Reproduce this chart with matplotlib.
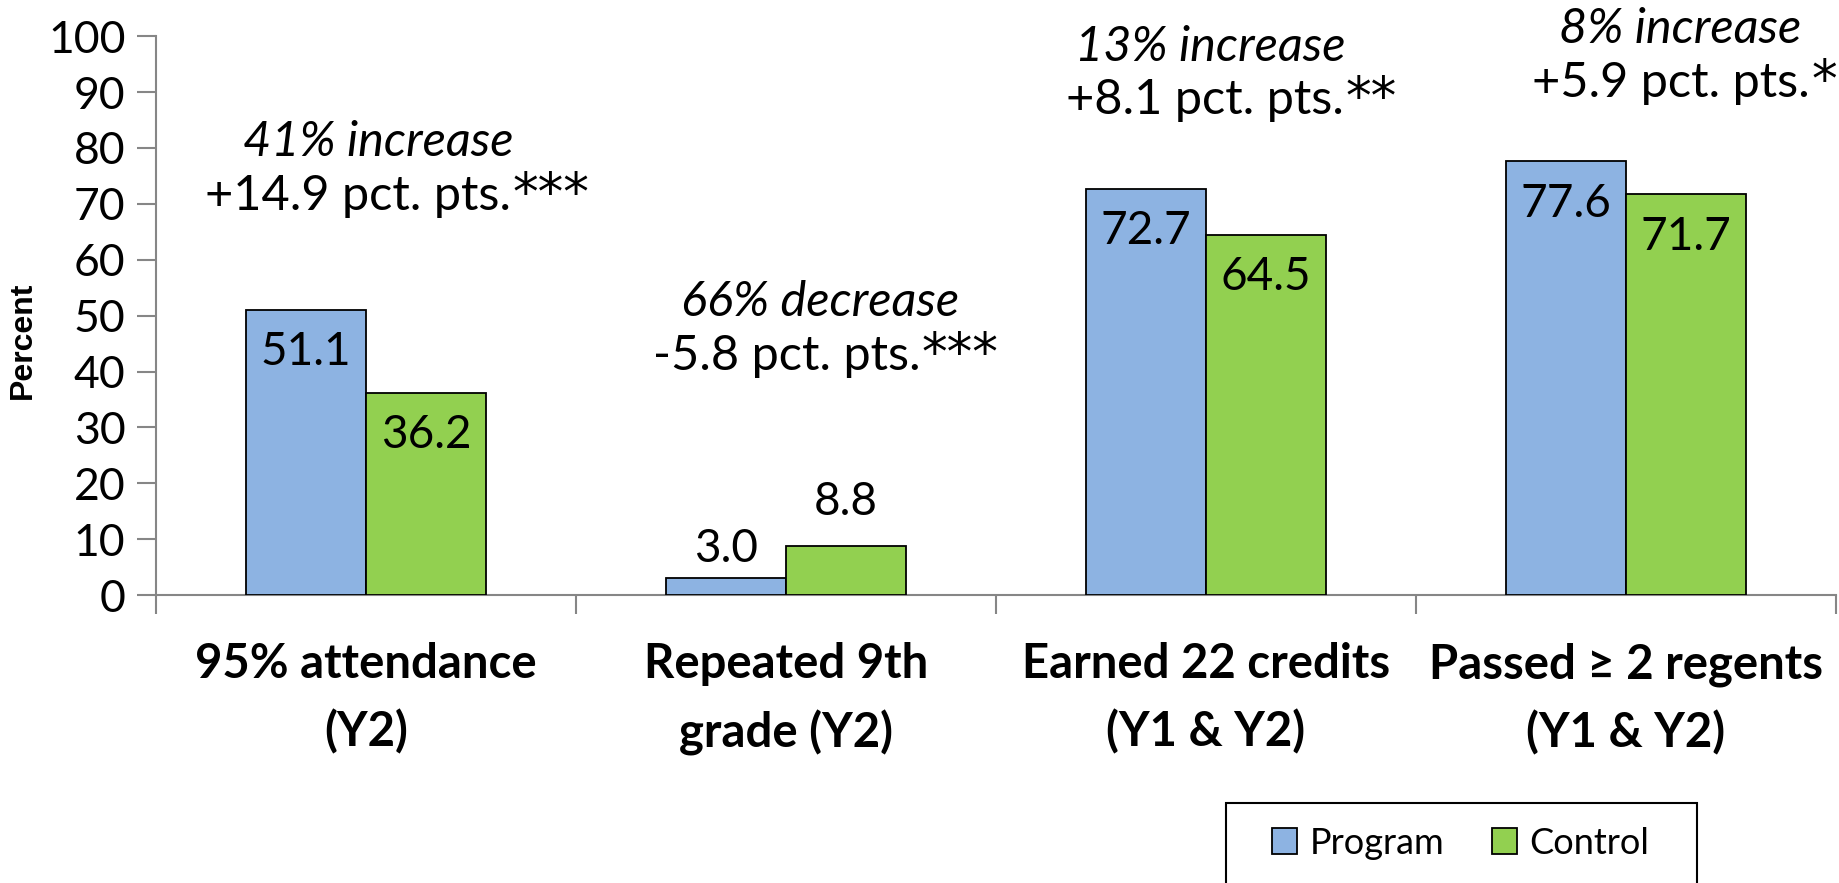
import matplotlib
matplotlib.use("Agg")
import matplotlib.pyplot as plt
import numpy as np
from matplotlib.patches import Patch, Rectangle
from matplotlib.offsetbox import TextArea, HPacker, AnnotationBbox

categories = ["95% attendance\n(Y2)", "Repeated 9th\ngrade (Y2)",
              "Earned 22 credits\n(Y1 & Y2)", "Passed \u2265 2 regents\n(Y1 & Y2)"]
program = [51.1, 3.0, 72.7, 77.6]
control = [36.2, 8.8, 64.5, 71.7]
effect_pct = ["41% increase", "66% decrease", "13% increase", "8% increase"]
effect_pts = ["+14.9 pct. pts.", "-5.8 pct. pts.", "+8.1 pct. pts.", "+5.9 pct. pts."]
significance = ["***", "***", "**", "*"]
yticks = [0, 10, 20, 30, 40, 50, 60, 70, 80, 90, 100]

FONT = "Lato"
BLUE = "#8DB3E2"
GREEN = "#92D050"

fig = plt.figure(figsize=(18.4, 8.83), dpi=100)
ax = fig.add_axes([0.0848, 0.326, 0.913, 0.633])

x = np.arange(len(categories))
w = 0.285
ax.bar(x - w / 2, program, w, color=BLUE, edgecolor="black", linewidth=1.3, zorder=3)
ax.bar(x + w / 2, control, w, color=GREEN, edgecolor="black", linewidth=1.3, zorder=3)

ax.set_xlim(-0.5, len(categories) - 0.5)
ax.set_ylim(0, 100)
ax.set_yticks(yticks)
ax.set_yticklabels([str(t) for t in yticks], fontsize=32, family=FONT)

# Category separators as minor ticks on the x axis
ax.set_xticks(np.arange(-0.5, len(categories)), minor=True)
ax.set_xticks(x)
ax.set_xticklabels(categories, fontsize=34, family=FONT, fontweight="bold",
                   linespacing=1.62)
ax.tick_params(axis="x", which="major", length=0, pad=34)
ax.tick_params(axis="x", which="minor", length=14, width=1.5, color="#868686")
ax.tick_params(axis="y", length=14, width=1.5, color="#868686", pad=8)

for side in ["top", "right"]:
    ax.spines[side].set_visible(False)
for side in ["left", "bottom"]:
    ax.spines[side].set_color("#868686")
    ax.spines[side].set_linewidth(1.5)

ax.set_ylabel("Percent", family="Liberation Sans", fontweight="bold", fontsize=23,
              va="center")
ax.yaxis.set_label_coords(-0.0792, 0.456)

# Value labels
label_kw = dict(ha="center", va="center", fontsize=33, family=FONT, zorder=4)
for i, (p, c) in enumerate(zip(program, control)):
    if p > 20:
        ax.text(x[i] - w / 2, p - 7.6, f"{p:.1f}", **label_kw)
    else:
        ax.text(x[i] - w / 2, p + 5.2, f"{p:.1f}", **label_kw)
    if c > 20:
        ax.text(x[i] + w / 2, c - 7.6, f"{c:.1f}", **label_kw)
    else:
        ax.text(x[i] + w / 2, c + 7.8, f"{c:.1f}", **label_kw)

# Effect annotations above each group
pct_pos = [(0.03, 81.0), (0.08, 52.5), (0.01, 98.0), (0.13, 101.2)]
pts_pos = [(0.075, 71.4), (0.095, 42.8), (0.06, 88.6), (0.14, 91.7)]
for i in range(len(categories)):
    px, py = pct_pos[i]
    ax.text(x[i] + px, py, effect_pct[i], ha="center", va="center", fontsize=35,
            family=FONT, style="italic", clip_on=False)
    qx, qy = pts_pos[i]
    main = TextArea(effect_pts[i], textprops=dict(fontsize=35, family=FONT))
    stars = TextArea(significance[i], textprops=dict(fontsize=37, family="DejaVu Sans"))
    row = HPacker(children=[main, stars], align="baseline", pad=0, sep=1)
    ab = AnnotationBbox(row, (x[i] + qx, qy), xycoords="data", frameon=False,
                        box_alignment=(0.5, 0.5), pad=0, annotation_clip=False)
    ax.add_artist(ab)

# Legend: entries without frame, box drawn separately (it runs off the bottom edge)
handles = [Patch(facecolor=BLUE, edgecolor="black", linewidth=1.3, label="Program"),
           Patch(facecolor=GREEN, edgecolor="black", linewidth=1.3, label="Control")]
fig.legend(handles=handles, loc="center left", bbox_to_anchor=(0.6913, 0.0453),
           ncol=2, frameon=False, prop={"family": FONT, "size": 26},
           handlelength=0.7, handleheight=0.7, handletextpad=0.35, columnspacing=1.3,
           borderpad=0, borderaxespad=0)
fig.patches.append(Rectangle((1226 / 1840, -0.02), (1697 - 1226) / 1840, 0.02 + 1 - 803 / 883,
                             transform=fig.transFigure, fill=False, edgecolor="black",
                             linewidth=1.5))

fig.savefig("out.png", dpi=100)
